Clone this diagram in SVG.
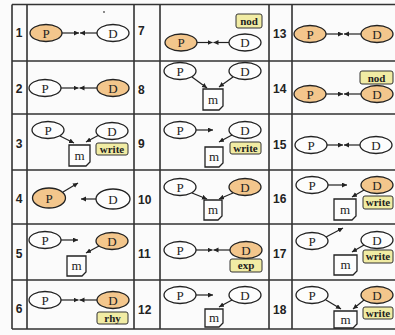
<svg xmlns="http://www.w3.org/2000/svg" width="395" height="335" viewBox="0 0 395 335">
<defs>
<marker id="ah" markerUnits="userSpaceOnUse" markerWidth="6" markerHeight="6" refX="5" refY="2.5" orient="auto">
<path d="M0,0 L5,2.5 L0,5 Z" fill="#222"/>
</marker>
</defs>
<style>
.e{stroke:#222;stroke-width:1.3;fill:#fdfdfd}
.o{fill:#f3c68c}
.t{font-family:"Liberation Serif",serif;font-size:13px;fill:#222;text-anchor:middle}
.lb{fill:#f1eca4;stroke:#333;stroke-width:1}
.lt{font-family:"Liberation Serif",serif;font-size:11px;fill:#222;text-anchor:middle;font-weight:bold}
.m{fill:#fdfdfd;stroke:#222;stroke-width:1.3}
.n{font-family:"Liberation Sans",Arial,sans-serif;font-size:12px;font-weight:bold;fill:#222}
.g{stroke:#333;stroke-width:1.6;fill:none}
.c{stroke:#222;stroke-width:1.2;fill:none;marker-end:url(#ah)}
</style>
<rect width="395" height="335" fill="#fbfbfb"/>
<g id="grid" class="g">
<path d="M12,4.5 V329 M27,4.5 V329 M134,4.5 V329 M160,4.5 V329 M269,4.5 V329 M292,4.5 V329"/>
<path d="M12,4.5 H395 M12,61 H395 M12,114 H395 M12,170 H395 M12,224 H395 M12,280 H395 M12,329 H395"/>
</g>
<circle cx="104" cy="12" r="0.9" fill="#555"/>
<g id="numbers" class="n">
<text x="19" y="36.5" text-anchor="middle">1</text>
<text x="19" y="92.5" text-anchor="middle">2</text>
<text x="19" y="147.5" text-anchor="middle">3</text>
<text x="19" y="202.5" text-anchor="middle">4</text>
<text x="19" y="257.5" text-anchor="middle">5</text>
<text x="19" y="312.5" text-anchor="middle">6</text>
<text x="138" y="34.5">7</text>
<text x="138" y="93.5">8</text>
<text x="138" y="147.5">9</text>
<text x="138" y="203.5">10</text>
<text x="138" y="257.5">11</text>
<text x="138" y="313.5">12</text>
<text x="273" y="37.5">13</text>
<text x="273" y="92.5">14</text>
<text x="273" y="148.5">15</text>
<text x="273" y="202.5">16</text>
<text x="273" y="257.5">17</text>
<text x="273" y="313.5">18</text>
</g>
<g id="connectors">
<path class="c" d="M62,33 H79"/><path class="c" d="M97,33 H80"/>
<path class="c" d="M61,88 H78.5"/><path class="c" d="M97,88 H79.5"/>
<path class="c" d="M61,300 H78.5"/><path class="c" d="M97,300 H79.5"/>
<path class="c" d="M197,42.5 H212.5"/><path class="c" d="M229,42.5 H213.5"/>
<path class="c" d="M196,250 H212.5"/><path class="c" d="M230,250 H213.5"/>
<path class="c" d="M326,34 H343"/><path class="c" d="M361,34 H344"/>
<path class="c" d="M326,94 H343"/><path class="c" d="M361,94 H344"/>
<path class="c" d="M327,145 H343"/><path class="c" d="M360,145 H344"/>
<path class="c" d="M60,136 L74,143"/><path class="c" d="M99,135 L86,142"/>
<path class="c" d="M63,192 L78,183"/><path class="c" d="M96,199 H81"/>
<path class="c" d="M61,240 H78"/><path class="c" d="M99,246 L86,253"/>
<path class="c" d="M192,77 L207,88"/><path class="c" d="M233,77 L219,87"/>
<path class="c" d="M196,130 H213"/><path class="c" d="M232,135 L219,142"/>
<path class="c" d="M192,193 L207,199"/><path class="c" d="M233,193 L219,199"/>
<path class="c" d="M196,295 H213"/><path class="c" d="M232,300 L219,307"/>
<path class="c" d="M328,185 H347"/><path class="c" d="M364,190 L352,197"/>
<path class="c" d="M326,237 L343,228"/><path class="c" d="M364,245 L352,252"/>
<path class="c" d="M326,300 L341,309"/><path class="c" d="M364,300 L353,309"/>
</g>
<g id="c1-P"><ellipse class="e o" cx="46" cy="33" rx="16" ry="8.5"/><text class="t" x="46" y="37.5">P</text></g>
<g id="c1-D"><ellipse class="e" cx="113" cy="33" rx="16" ry="8.5"/><text class="t" x="113" y="37.5">D</text></g>
<g id="c7-P"><ellipse class="e o" cx="181" cy="42.5" rx="16" ry="8.5"/><text class="t" x="181" y="47">P</text></g>
<g id="c7-D"><ellipse class="e" cx="245" cy="42.5" rx="16" ry="8.5"/><text class="t" x="245" y="47">D</text></g>
<g id="c7-nod"><rect class="lb" x="236" y="14" width="26" height="14" rx="2"/><text class="lt" x="249" y="25">nod</text></g>
<g id="c13-P"><ellipse class="e o" cx="310" cy="34" rx="16" ry="8.5"/><text class="t" x="310" y="38.5">P</text></g>
<g id="c13-D"><ellipse class="e o" cx="377" cy="34" rx="16" ry="8.5"/><text class="t" x="377" y="38.5">D</text></g>
<g id="c2-P"><ellipse class="e" cx="45" cy="88" rx="16" ry="8.5"/><text class="t" x="45" y="92.5">P</text></g>
<g id="c2-D"><ellipse class="e o" cx="113" cy="88" rx="16" ry="8.5"/><text class="t" x="113" y="92.5">D</text></g>
<g id="c8-P"><ellipse class="e" cx="180" cy="71" rx="16" ry="8.5"/><text class="t" x="180" y="75.5">P</text></g>
<g id="c8-D"><ellipse class="e" cx="245" cy="71" rx="16" ry="8.5"/><text class="t" x="245" y="75.5">D</text></g>
<g id="c8-m"><path class="m" d="M203,89 H223 V106 L219,110 H203 Z"/><text class="t" x="213" y="104">m</text></g>
<g id="c14-P"><ellipse class="e o" cx="310" cy="94" rx="16" ry="8.5"/><text class="t" x="310" y="98.5">P</text></g>
<g id="c14-D"><ellipse class="e o" cx="377" cy="94" rx="16" ry="8.5"/><text class="t" x="377" y="98.5">D</text></g>
<g id="c14-nod"><rect class="lb" x="360" y="71" width="33" height="13" rx="2"/><text class="lt" x="376.5" y="81.5">nod</text></g>
<g id="c3-P"><ellipse class="e" cx="48" cy="130" rx="16" ry="8.5"/><text class="t" x="48" y="134.5">P</text></g>
<g id="c3-D"><ellipse class="e" cx="112" cy="131" rx="16" ry="8.5"/><text class="t" x="112" y="135.5">D</text></g>
<g id="c3-m"><path class="m" d="M69,145 H90 V162 L86,166 H69 Z"/><text class="t" x="79.5" y="160">m</text></g>
<g id="c3-write"><rect class="lb" x="96" y="143" width="32" height="12" rx="2"/><text class="lt" x="112" y="152.5">write</text></g>
<g id="c9-P"><ellipse class="e" cx="180" cy="130" rx="16" ry="8.5"/><text class="t" x="180" y="134.5">P</text></g>
<g id="c9-D"><ellipse class="e" cx="245" cy="130" rx="16" ry="8.5"/><text class="t" x="245" y="134.5">D</text></g>
<g id="c9-m"><path class="m" d="M205,147 H223 V163 L219,167 H205 Z"/><text class="t" x="214" y="161">m</text></g>
<g id="c9-write"><rect class="lb" x="230" y="142" width="31" height="12" rx="2"/><text class="lt" x="245.5" y="151.5">write</text></g>
<g id="c15-P"><ellipse class="e" cx="311" cy="145" rx="16" ry="8.5"/><text class="t" x="311" y="149.5">P</text></g>
<g id="c15-D"><ellipse class="e" cx="376" cy="145" rx="16" ry="8.5"/><text class="t" x="376" y="149.5">D</text></g>
<g id="c4-P"><ellipse class="e o" cx="49" cy="198" rx="16.5" ry="10"/><text class="t" x="49" y="202.5">P</text></g>
<g id="c4-D"><ellipse class="e" cx="113" cy="199" rx="17" ry="10"/><text class="t" x="113" y="203.5">D</text></g>
<g id="c10-P"><ellipse class="e" cx="180" cy="187" rx="16" ry="8.5"/><text class="t" x="180" y="191.5">P</text></g>
<g id="c10-D"><ellipse class="e o" cx="245" cy="187" rx="16" ry="8.5"/><text class="t" x="245" y="191.5">D</text></g>
<g id="c10-m"><path class="m" d="M204,200 H222 V216 L218,220 H204 Z"/><text class="t" x="213" y="214">m</text></g>
<g id="c16-P"><ellipse class="e" cx="312" cy="185" rx="16" ry="8.5"/><text class="t" x="312" y="189.5">P</text></g>
<g id="c16-D"><ellipse class="e o" cx="377" cy="185" rx="16" ry="8.5"/><text class="t" x="377" y="189.5">D</text></g>
<g id="c16-m"><path class="m" d="M334,199 H356 V216 L352,220 H334 Z"/><text class="t" x="345" y="214">m</text></g>
<g id="c16-write"><rect class="lb" x="363" y="196" width="30" height="13" rx="2"/><text class="lt" x="378" y="206">write</text></g>
<g id="c5-P"><ellipse class="e" cx="45" cy="240" rx="16" ry="8.5"/><text class="t" x="45" y="244.5">P</text></g>
<g id="c5-D"><ellipse class="e o" cx="112" cy="241" rx="16" ry="8.5"/><text class="t" x="112" y="245.5">D</text></g>
<g id="c5-m"><path class="m" d="M67,256 H86 V272 L82,276 H67 Z"/><text class="t" x="76.5" y="270">m</text></g>
<g id="c11-P"><ellipse class="e" cx="180" cy="250" rx="16" ry="8.5"/><text class="t" x="180" y="254.5">P</text></g>
<g id="c11-D"><ellipse class="e o" cx="246" cy="250" rx="16" ry="8.5"/><text class="t" x="246" y="254.5">D</text></g>
<g id="c11-exp"><rect class="lb" x="230" y="259" width="32" height="13" rx="2"/><text class="lt" x="246" y="269">exp</text></g>
<g id="c17-P"><ellipse class="e" cx="312" cy="241" rx="16" ry="8.5"/><text class="t" x="312" y="245.5">P</text></g>
<g id="c17-D"><ellipse class="e" cx="377" cy="240" rx="16" ry="8.5"/><text class="t" x="377" y="244.5">D</text></g>
<g id="c17-m"><path class="m" d="M334,255 H357 V271 L353,275 H334 Z"/><text class="t" x="345.5" y="269">m</text></g>
<g id="c17-write"><rect class="lb" x="363" y="250" width="30" height="13" rx="2"/><text class="lt" x="378" y="260">write</text></g>
<g id="c6-P"><ellipse class="e" cx="45" cy="300" rx="16" ry="8.5"/><text class="t" x="45" y="304.5">P</text></g>
<g id="c6-D"><ellipse class="e o" cx="113" cy="300" rx="16" ry="8.5"/><text class="t" x="113" y="304.5">D</text></g>
<g id="c6-rhy"><rect class="lb" x="97" y="312" width="31" height="12" rx="2"/><text class="lt" x="112.5" y="321.5">rhy</text></g>
<g id="c12-P"><ellipse class="e" cx="180" cy="295" rx="16" ry="8.5"/><text class="t" x="180" y="299.5">P</text></g>
<g id="c12-D"><ellipse class="e" cx="245" cy="295" rx="16" ry="8.5"/><text class="t" x="245" y="299.5">D</text></g>
<g id="c12-m"><path class="m" d="M205,309 H223 V323 L219,327 H205 Z"/><text class="t" x="214" y="322">m</text></g>
<g id="c18-P"><ellipse class="e" cx="312" cy="295" rx="16" ry="8.5"/><text class="t" x="312" y="299.5">P</text></g>
<g id="c18-D"><ellipse class="e o" cx="377" cy="295" rx="16" ry="8.5"/><text class="t" x="377" y="299.5">D</text></g>
<g id="c18-m"><path class="m" d="M334,311 H357 V324 L353,328 H334 Z"/><text class="t" x="345.5" y="324">m</text></g>
<g id="c18-write"><rect class="lb" x="363" y="307" width="30" height="12" rx="2"/><text class="lt" x="378" y="316.5">write</text></g>
</svg>
